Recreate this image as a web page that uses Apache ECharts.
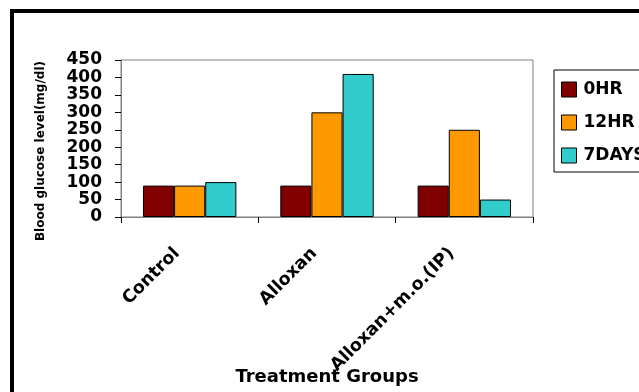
<!DOCTYPE html>
<html>
<head>
<meta charset="utf-8">
<script src="https://cdn.jsdelivr.net/npm/echarts@6/dist/echarts.min.js"></script>
<style>
  html, body { margin: 0; padding: 0; background: #fff; }
  #chart { width: 639px; height: 392px; }
</style>
</head>
<body>
<div id="chart"></div>
<script>
// Treatment groups on the x axis
const groups = ['Control', 'Alloxan', 'Alloxan+m.o.(IP)'];
// Blood glucose (mg/dl) per time point
const seriesNames = ['0HR', '12HR', '7DAYS'];
const hr0 = [90, 90, 90];
const hr12 = [90, 300, 250];
const days7 = [100, 410, 50];
const seriesColors = ['#800000', '#FF9900', '#33CCCC'];

const FONT = 'DejaVu Sans';
const chart = echarts.init(document.getElementById('chart'), null, { renderer: 'canvas' });

const values = [hr0, hr12, days7];
const series = seriesNames.map((name, i) => ({
  name: name,
  type: 'bar',
  data: values[i],
  barGap: '0%',
  barCategoryGap: '32%',
  itemStyle: { color: seriesColors[i], borderColor: '#000', borderWidth: 1 }
}));

chart.setOption({
  animation: false,
  backgroundColor: '#fff',
  grid: {
    left: 121, top: 60, right: 106, bottom: 175,
    outerBoundsMode: 'none',
    containLabel: false,
    show: true, borderColor: '#808080', borderWidth: 1
  },
  legend: {
    orient: 'vertical',
    left: 554, top: 70,
    padding: [11, 60, 8, 7],
    itemWidth: 15, itemHeight: 15, itemGap: 16,
    borderColor: '#000', borderWidth: 1,
    icon: 'rect',
    itemStyle: { borderColor: '#000', borderWidth: 1 },
    textStyle: { fontFamily: FONT, fontWeight: 'bold', fontSize: 17, color: '#000', lineHeight: 15, padding: [0, 0, 0, 2] },
    data: seriesNames
  },
  xAxis: {
    type: 'category',
    data: groups,
    name: 'Treatment Groups',
    nameLocation: 'middle',
    nameGap: 151,
    nameMoveOverlap: false,
    nameTextStyle: { fontFamily: FONT, fontWeight: 'bold', fontSize: 18, color: '#000' },
    axisLine: { lineStyle: { color: '#808080', width: 1 } },
    axisTick: { show: true, length: 6, lineStyle: { color: '#000' } },
    axisLabel: {
      rotate: 45, margin: 21, padding: [0, 18, 0, 0],
      fontFamily: FONT, fontWeight: 'bold', fontSize: 17.5, color: '#000'
    }
  },
  yAxis: {
    type: 'value',
    min: 0, max: 450, interval: 50,
    splitLine: { show: false },
    axisLine: { show: true, lineStyle: { color: '#808080', width: 1 } },
    axisTick: { show: true, length: 6, lineStyle: { color: '#000' } },
    axisLabel: { margin: 19, fontFamily: FONT, fontWeight: 'bold', fontSize: 17, color: '#000' }
  },
  graphic: [
    {
      type: 'rect',
      shape: { x: 12, y: 11, width: 800, height: 600 },
      style: { fill: 'none', stroke: '#000', lineWidth: 4 },
      silent: true
    },
    {
      type: 'text',
      x: 41, y: 151,
      rotation: Math.PI / 2,
      style: {
        text: 'Blood glucose level(mg/dl)',
        font: 'bold 12px "DejaVu Sans"',
        fill: '#000',
        align: 'center',
        verticalAlign: 'middle'
      }
    }
  ],
  series: series
});
</script>
</body>
</html>
